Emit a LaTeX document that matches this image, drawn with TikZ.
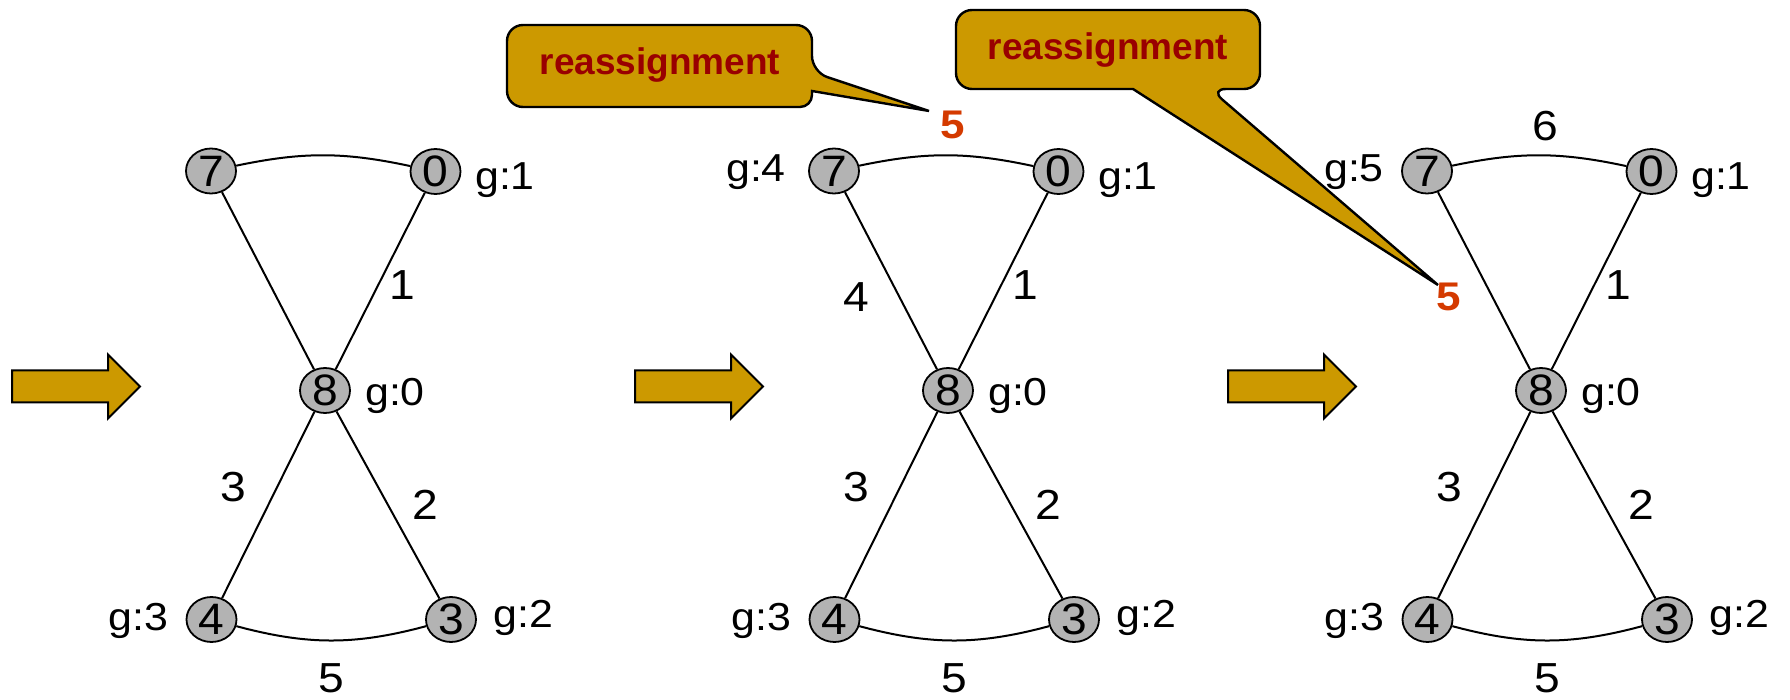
\documentclass[tikz,border=0pt]{standalone}
\usepackage{fontspec}
\setmainfont{Liberation Sans}
\newfontfamily\nfont[FakeStretch=1.05]{Liberation Sans}
\newfontfamily\gfont[FakeStretch=1.1]{Liberation Sans}
\usetikzlibrary{shapes.geometric}
\definecolor{gold}{RGB}{204,153,0}
\definecolor{ngray}{RGB}{179,179,179}
\definecolor{dred}{RGB}{153,0,0}
\definecolor{ored}{RGB}{212,58,0}
\begin{document}
\begin{tikzpicture}[x=0.5pt,y=-0.5pt,
  vert/.style={ellipse,draw,line width=0.9pt,fill=ngray,minimum width=25pt,minimum height=22.5pt,inner sep=0pt,font=\nfont\fontsize{22}{26}\selectfont},
  glab/.style={anchor=base,inner sep=0pt,font=\gfont\fontsize{19.5}{23}\selectfont},
  wlab/.style={anchor=base,inner sep=0pt,font=\gfont\fontsize{21}{24}\selectfont},
  rlab/.style={anchor=base,inner sep=0pt,text=ored,font=\gfont\bfseries\fontsize{20}{24}\selectfont},
  gedge/.style={line width=1pt},
  bigarrow/.style={draw,line width=1pt,fill=gold,line join=miter},
  callout/.style={draw,line width=1.2pt,fill=gold},
  ctext/.style={anchor=base,text=dred,font=\bfseries\fontsize{18.5}{22}\selectfont,inner sep=0pt}]

\useasboundingbox (0,0) rectangle (1790,700);

\foreach \p/\dx in {a/0,b/623,c/1216}{
\begin{scope}[shift={(\dx,0)}]
  \draw[bigarrow] (12,370.5) -- (108,370.5) -- (108,354.5) -- (140,386.5) -- (108,418.5) -- (108,402.5) -- (12,402.5) -- cycle;
  \node[vert] (\p7) at (211,171) {7};
  \node[vert] (\p0) at (435.5,171.5) {0};
  \node[vert] (\p8) at (325,390.5) {8};
  \node[vert] (\p4) at (211.5,619.5) {4};
  \node[vert] (\p3) at (451,619.5) {3};
  \draw[gedge] (\p7) to[bend left=12] (\p0);
  \draw[gedge] (\p4) to[bend right=15] (\p3);
  \draw[gedge] (\p7) -- (\p8);
  \draw[gedge] (\p0) -- (\p8);
  \draw[gedge] (\p8) -- (\p4);
  \draw[gedge] (\p8) -- (\p3);
  \node[glab] (\p g1) at (505,190) {g:1};
  \node[glab] (\p g0) at (395,406) {g:0};
  \node[glab] (\p g3) at (138.5,630) {g:3};
  \node[glab] (\p g2) at (523.5,627) {g:2};
  \node[wlab] (\p w1) at (402,300) {1};
  \node[wlab] (\p w3) at (233,502) {3};
  \node[wlab] (\p w2) at (425,519) {2};
  \node[wlab] (\p w5) at (331,692) {5};
\end{scope}
}

% panel b specifics
\node[glab] (bg7) at (623+133,182) {g:4};
\node[wlab] (bw4) at (623+233,312) {4};
\node[rlab] (br5) at (623+330,139) {5};
% panel c specifics
\node[glab] (cg7) at (1216+138,182) {g:5};
\node[wlab] (cw6) at (1216+329,141) {6};
\node[rlab] (cr5) at (1216+233,311) {5};

% callout 1
\coordinate (tip1) at (929,111);
\draw[callout,rounded corners=8pt] (507,66) -- (507,25) -- (812,25) -- (812,72) [sharp corners] -- (tip1) -- (812,91) [rounded corners=6pt] -- (812,107) [rounded corners=8pt] -- (507,107) -- cycle;
\node[ctext] (t1) at (660,75) {reassignment};

% callout 2
\coordinate (tip2) at (1438,285);
\draw[callout,rounded corners=8pt] (956,50) -- (956,10) -- (1260,10) -- (1260,89) -- (1210,89) [sharp corners] -- (tip2) -- (1133,89) [rounded corners=8pt] -- (956,89) -- cycle;
\node[ctext] (t2) at (1108,60) {reassignment};
\end{tikzpicture}
\end{document}
